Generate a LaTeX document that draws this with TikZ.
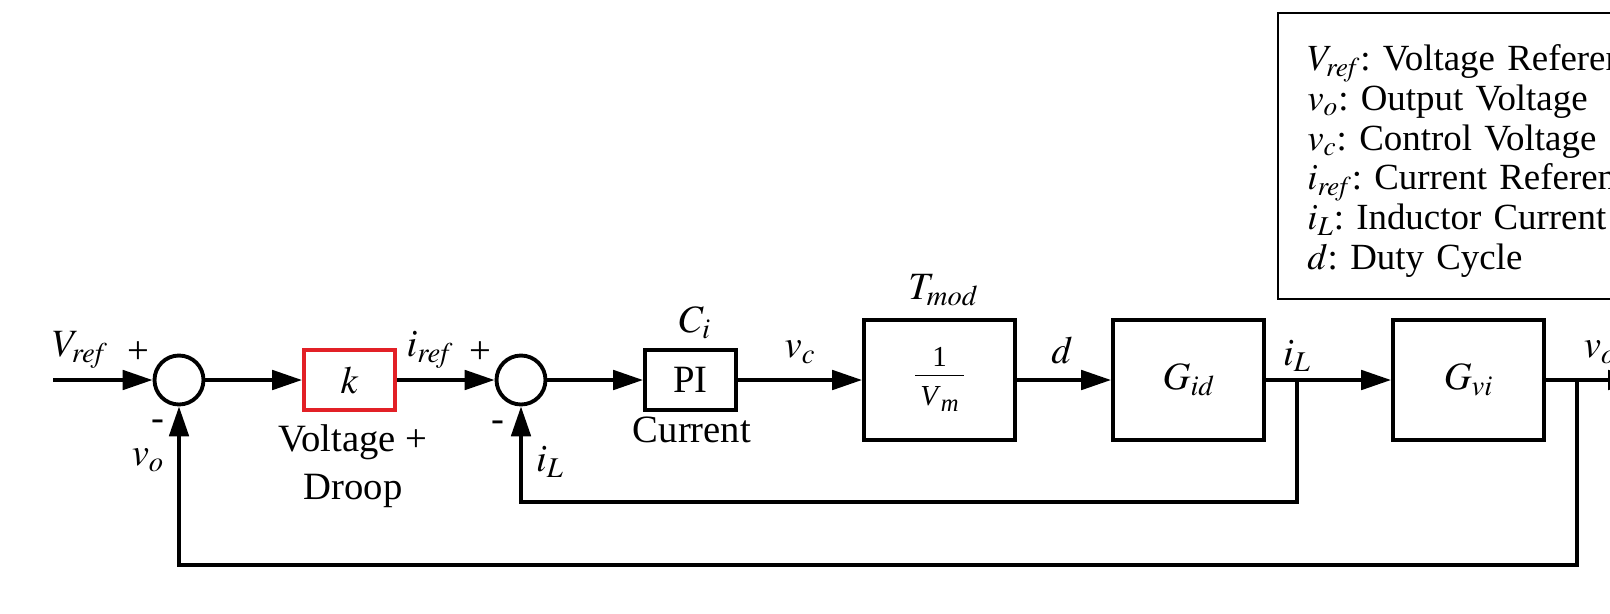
\documentclass[tikz,border=0pt]{standalone}
\usepackage{mathptmx}
\usepackage{fontspec}
\setmainfont{Liberation Serif}
\usetikzlibrary{arrows.meta}
\definecolor{droopred}{RGB}{226,32,38}

\begin{document}
\begin{tikzpicture}[x=0.02cm,y=-0.02cm,
    every node/.style={font=\fontsize{22}{27}\selectfont},
    blk/.style={draw,line width=2.2pt,minimum width=1.82cm,minimum height=1.2cm,inner sep=0pt},
    bigblk/.style={blk,minimum width=3.02cm,minimum height=2.4cm},
    sumnode/.style={draw,circle,line width=2.2pt,minimum size=0.98cm,inner sep=0pt},
    wire/.style={line width=2.2pt},
    arr/.style={wire,-{Triangle[length=17pt,width=11pt]}}]
      \useasboundingbox (0,0) rectangle (1610,613);
      \node[sumnode] (s1) at (179,380) {};
      \node[blk,draw=droopred] (k) at (349.5,380) {$k$};
      \node[sumnode] (s2) at (521,380) {};
      \node[blk] (pi) at (690.5,380) {PI};
      \node[bigblk,font=\fontsize{16.5}{18}\selectfont] (tmod) at (939.5,380)
        {\setlength\arrayrulewidth{0.8pt}\setlength\tabcolsep{3pt}%
         \begin{tabular}{c}1\\[-1pt]\hline
         \rule{0pt}{17pt}\textit{V}\raisebox{-3pt}{\fontsize{14}{14}\selectfont\textit{m}}\end{tabular}};
      \node[bigblk] (gid) at (1188.5,380) {$G_{\mathit{id}}$};
      \node[bigblk] (gvi) at (1468.5,380) {$G_{\mathit{vi}}$};
      \coordinate (in) at (53,380);
      \coordinate (out) at (1638,380);
      \coordinate (ilb) at (1297,380);
      \coordinate (ild) at (1297,502);
      \coordinate (vob) at (1577,380);
      \coordinate (vod) at (1577,565);
      \draw[arr] (in) -- (s1);
      \draw[arr] (s1) -- (k);
      \draw[arr] (k) -- (s2);
      \draw[arr] (s2) -- (pi);
      \draw[arr] (pi) -- (tmod);
      \draw[arr] (tmod) -- (gid);
      \draw[arr] (gid) -- (gvi);
      \draw[arr] (gvi) -- (out);
      \draw[arr] (ilb) -- (ild) -| (s2);
      \draw[arr] (vob) -- (vod) -| (s1);
      \node (vref) at (80,350) {$V_{\mathit{ref}}$};
      \node (p1) at (138,353) {+};
      \node (m1) at (158,425) {-};
      \node (vo1) at (148,460) {$v_o$};
      \node (iref) at (430,350) {$i_{\mathit{ref}}$};
      \node (p2) at (480,353) {+};
      \node (m2) at (498,426) {-};
      \node (il1) at (550,462) {$i_L$};
      \node[align=center] (droop) at (353,466) {Voltage +\\Droop};
      \node (ci) at (695,323) {$C_i$};
      \node (cur) at (692,430) {Current};
      \node (vc) at (800,352) {$v_c$};
      \node (tm) at (943,290) {$T_{\mathit{mod}}$};
      \node (dd) at (1062,350) {$d$};
      \node (il2) at (1297,356) {$i_L$};
      \node (vo2) at (1600,352) {$v_o$};
      \draw[line width=1.6pt] (1278,13) rectangle (1720,299);
      \node[anchor=north west,inner sep=0pt,text width=9cm,align=left,
        font=\fontsize{21}{22.7}\selectfont\frenchspacing] (legend) at (1307,44)
        {$V_{\mathit{ref}}$: Voltage Reference\\
         $v_o$: Output Voltage\\
         $v_c$: Control Voltage\\
         $i_{\mathit{ref}}$: Current Reference\\
         $i_L$: Inductor Current\\
         $d$: Duty Cycle};
\end{tikzpicture}
\end{document}
